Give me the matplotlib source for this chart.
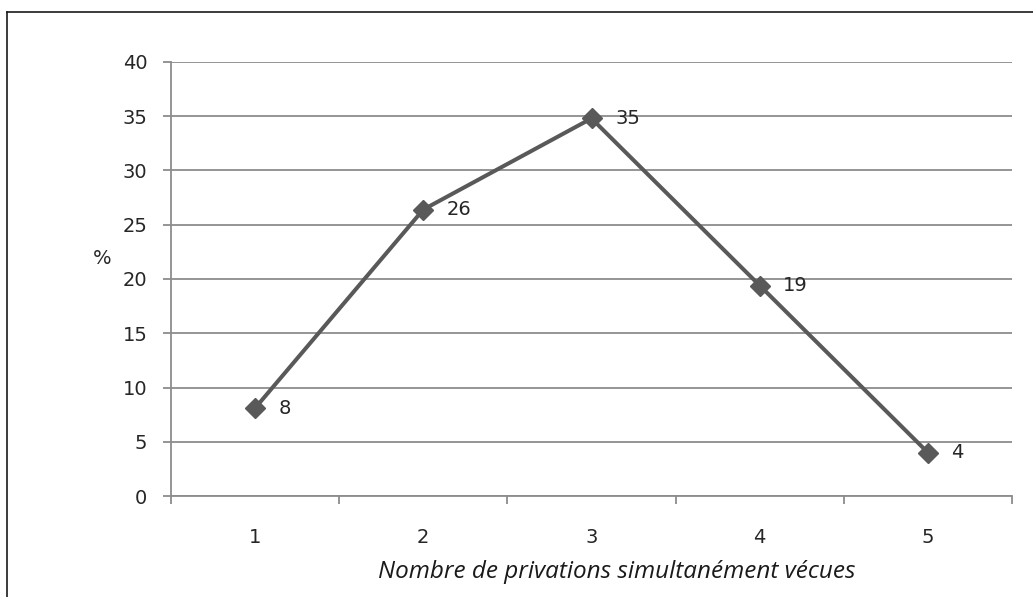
import matplotlib
matplotlib.use("Agg")
import matplotlib.pyplot as plt
from matplotlib.lines import Line2D

# data
categories = [1, 2, 3, 4, 5]
values = [8.1, 26.4, 34.8, 19.4, 4.0]
value_labels = ["8", "26", "35", "19", "4"]
y_ticks = [0, 5, 10, 15, 20, 25, 30, 35, 40]

grid_col = '#8c8c8c'
line_col = '#595959'
text_col = '#262626'
fs = 14

fig = plt.figure(figsize=(10.33, 5.97), dpi=100)
ax = fig.add_axes([171/1033, 1 - 496/597, (1012 - 171)/1033, (496 - 62)/597])

ax.plot(categories, values, color=line_col, linewidth=2.9, marker='D',
        markersize=10, markerfacecolor=line_col, markeredgecolor=line_col, zorder=3)
for x, v, lab in zip(categories, values, value_labels):
    ax.annotate(lab, (x, v), xytext=(17, 0), textcoords='offset points',
                ha='left', va='center', fontsize=fs, color=text_col,
                family='DejaVu Sans')

ax.set_xlim(0.5, 5.5)
ax.set_ylim(0, 40)
ax.set_yticks(y_ticks)
ax.set_xticks(categories)
ax.set_xticks([c - 0.5 for c in categories] + [5.5], minor=True)
ax.tick_params(axis='x', which='major', length=0, pad=23, labelsize=fs, labelcolor=text_col)
ax.tick_params(axis='x', which='minor', length=6, width=1.3, color=grid_col, direction='out')
ax.tick_params(axis='y', length=6, width=1.3, color=grid_col, direction='out', pad=11,
               labelsize=fs, labelcolor=text_col)

ax.grid(axis='y', color=grid_col, linewidth=1.3)
ax.set_axisbelow(True)
for s in ['top', 'right']:
    ax.spines[s].set_visible(False)
for s in ['left', 'bottom']:
    ax.spines[s].set_color(grid_col)
    ax.spines[s].set_linewidth(1.3)

fig.text(102/1033, 1 - 259/597, '%', ha='center', va='center', fontsize=fs, color=text_col)
fig.text(617/1033, 1 - 572/597, 'Nombre de privations simultanément vécues',
         ha='center', va='center', fontsize=17.5, style='italic', color='#1a1a1a',
         family='Open Sans')

# outer chart border (left and top visible in the reference)
fig.add_artist(Line2D([7/1033, 7/1033], [0, 1 - 12/597], transform=fig.transFigure,
                      color='#1a1a1a', linewidth=1.2))
fig.add_artist(Line2D([7/1033, 1], [1 - 12/597, 1 - 12/597], transform=fig.transFigure,
                      color='#1a1a1a', linewidth=1.2))

fig.savefig('out.png', dpi=100)
